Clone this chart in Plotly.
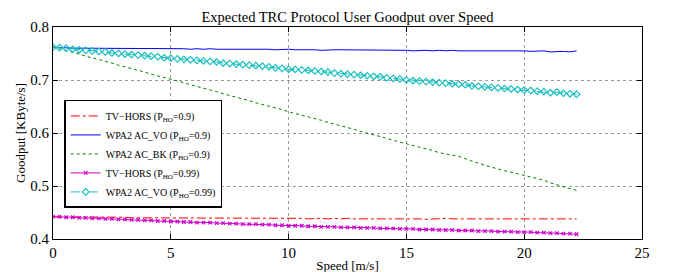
import plotly.graph_objects as go

speed_ms = [0, 0.278, 0.556, 0.833, 1.111, 1.389, 1.667, 1.944, 2.222, 2.5,
            2.778, 3.056, 3.333, 3.611, 3.889, 4.167, 4.444, 4.722, 5.0, 5.278,
            5.556, 5.833, 6.111, 6.389, 6.667, 6.944, 7.222, 7.5, 7.778, 8.056,
            8.333, 8.611, 8.889, 9.167, 9.444, 9.722, 10.0, 10.278, 10.556, 10.833,
            11.111, 11.389, 11.667, 11.944, 12.222, 12.5, 12.778, 13.056, 13.333, 13.611,
            13.889, 14.167, 14.444, 14.722, 15.0, 15.278, 15.556, 15.833, 16.111, 16.389,
            16.667, 16.944, 17.222, 17.5, 17.778, 18.056, 18.333, 18.611, 18.889, 19.167,
            19.444, 19.722, 20.0, 20.278, 20.556, 20.833, 21.111, 21.389, 21.667, 21.944,
            22.222]

tvhors_09 = [0.442, 0.442, 0.442, 0.442, 0.441, 0.441, 0.441, 0.441, 0.441, 0.441,
             0.441, 0.441, 0.440, 0.440, 0.440, 0.440, 0.440, 0.440, 0.440, 0.440,
             0.440, 0.440, 0.440, 0.439, 0.440, 0.439, 0.439, 0.439, 0.439, 0.439,
             0.439, 0.439, 0.439, 0.439, 0.439, 0.439, 0.439, 0.439, 0.439, 0.438,
             0.439, 0.439, 0.438, 0.439, 0.438, 0.439, 0.438, 0.438, 0.439, 0.438,
             0.438, 0.438, 0.438, 0.439, 0.438, 0.438, 0.438, 0.437, 0.438, 0.438,
             0.439, 0.438, 0.438, 0.438, 0.437, 0.438, 0.438, 0.438, 0.438, 0.437,
             0.438, 0.438, 0.438, 0.437, 0.438, 0.437, 0.437, 0.438, 0.437, 0.438,
             0.438]

acvo_09 = [0.762, 0.761, 0.761, 0.760, 0.760, 0.760, 0.760, 0.760, 0.760, 0.760,
           0.760, 0.760, 0.760, 0.760, 0.759, 0.760, 0.759, 0.759, 0.759, 0.759,
           0.759, 0.758, 0.759, 0.758, 0.759, 0.758, 0.758, 0.758, 0.758, 0.758,
           0.759, 0.758, 0.758, 0.758, 0.757, 0.758, 0.758, 0.757, 0.757, 0.758,
           0.757, 0.756, 0.757, 0.757, 0.757, 0.757, 0.756, 0.757, 0.756, 0.756,
           0.756, 0.757, 0.756, 0.756, 0.756, 0.755, 0.756, 0.756, 0.755, 0.756,
           0.755, 0.756, 0.755, 0.755, 0.756, 0.756, 0.755, 0.755, 0.755, 0.755,
           0.755, 0.755, 0.755, 0.754, 0.754, 0.755, 0.753, 0.754, 0.754, 0.753,
           0.755]

acbk_09 = [0.762, 0.759, 0.755, 0.752, 0.749, 0.745, 0.742, 0.738, 0.735, 0.732,
           0.728, 0.725, 0.722, 0.718, 0.715, 0.711, 0.708, 0.705, 0.701, 0.698,
           0.695, 0.691, 0.688, 0.684, 0.681, 0.678, 0.674, 0.671, 0.667, 0.664,
           0.661, 0.657, 0.654, 0.651, 0.647, 0.644, 0.640, 0.637, 0.634, 0.630,
           0.627, 0.624, 0.620, 0.617, 0.613, 0.610, 0.607, 0.603, 0.600, 0.597,
           0.593, 0.590, 0.586, 0.583, 0.580, 0.577, 0.574, 0.571, 0.567, 0.563,
           0.560, 0.558, 0.556, 0.551, 0.547, 0.543, 0.539, 0.536, 0.532, 0.529,
           0.526, 0.522, 0.519, 0.516, 0.513, 0.511, 0.506, 0.502, 0.499, 0.495,
           0.492]

tvhors_099 = [0.442, 0.442, 0.441, 0.441, 0.440, 0.440, 0.439, 0.439, 0.438, 0.438,
              0.437, 0.437, 0.436, 0.436, 0.435, 0.435, 0.434, 0.434, 0.433, 0.433,
              0.432, 0.432, 0.431, 0.431, 0.431, 0.430, 0.430, 0.429, 0.429, 0.428,
              0.428, 0.428, 0.427, 0.427, 0.426, 0.426, 0.425, 0.425, 0.425, 0.424,
              0.424, 0.423, 0.423, 0.423, 0.422, 0.422, 0.422, 0.421, 0.421, 0.421,
              0.420, 0.420, 0.420, 0.419, 0.419, 0.419, 0.418, 0.418, 0.418, 0.417,
              0.417, 0.417, 0.416, 0.416, 0.416, 0.415, 0.415, 0.415, 0.414, 0.414,
              0.414, 0.413, 0.413, 0.413, 0.412, 0.412, 0.411, 0.411, 0.410, 0.410,
              0.409]

acvo_099 = [0.762, 0.761, 0.760, 0.758, 0.757, 0.756, 0.755, 0.754, 0.753, 0.751,
            0.750, 0.749, 0.748, 0.747, 0.746, 0.745, 0.744, 0.742, 0.741, 0.740,
            0.739, 0.738, 0.737, 0.736, 0.735, 0.734, 0.732, 0.731, 0.730, 0.729,
            0.728, 0.727, 0.726, 0.725, 0.723, 0.722, 0.720, 0.720, 0.719, 0.718,
            0.717, 0.716, 0.715, 0.713, 0.712, 0.711, 0.710, 0.709, 0.708, 0.707,
            0.706, 0.704, 0.703, 0.702, 0.700, 0.699, 0.698, 0.697, 0.696, 0.695,
            0.694, 0.693, 0.692, 0.691, 0.689, 0.688, 0.687, 0.686, 0.685, 0.684,
            0.683, 0.682, 0.681, 0.680, 0.679, 0.678, 0.676, 0.677, 0.675, 0.674,
            0.673]

x_ticks = [0, 5, 10, 15, 20, 25]
y_ticks = [0.4, 0.5, 0.6, 0.7, 0.8]
y_tick_labels = ["0.4", "0.5", "0.6", "0.7", "0.8"]

FONT = "Liberation Serif"

fig = go.Figure()
fig.add_trace(go.Scatter(x=speed_ms, y=tvhors_09, mode="lines",
                         name="TV\u2212HORS (P<sub>HO</sub>=0.9)",
                         line=dict(color="#ff0000", width=1, dash="dashdot")))
fig.add_trace(go.Scatter(x=speed_ms, y=acvo_09, mode="lines",
                         name="WPA2 AC_VO (P<sub>HO</sub>=0.9)",
                         line=dict(color="#0000ff", width=1)))
fig.add_trace(go.Scatter(x=speed_ms, y=acbk_09, mode="lines",
                         name="WPA2 AC_BK (P<sub>HO</sub>=0.9)",
                         line=dict(color="#008000", width=1, dash="dot")))
fig.add_trace(go.Scatter(x=speed_ms, y=tvhors_099, mode="lines+markers",
                         name="TV\u2212HORS (P<sub>HO</sub>=0.99)",
                         line=dict(color="#cc00cc", width=1),
                         marker=dict(symbol="x-thin-open", size=3.5,
                                     line=dict(color="#cc00cc", width=1.2))))
fig.add_trace(go.Scatter(x=speed_ms, y=acvo_099, mode="lines+markers",
                         name="WPA2 AC_VO (P<sub>HO</sub>=0.99)",
                         line=dict(color="#1abfbf", width=1, dash="dash"),
                         marker=dict(symbol="diamond-open", size=5,
                                     line=dict(color="#1abfbf", width=1.2))))

axis_common = dict(showline=True, linecolor="black", linewidth=1, mirror="ticks",
                   ticks="inside", ticklen=5, tickcolor="black", automargin=False,
                   showgrid=True, gridcolor="#9a9a9a", griddash="dot", gridwidth=1,
                   zeroline=False, tickfont=dict(family=FONT, size=15, color="black"))

fig.update_layout(
    width=675, height=272,
    margin=dict(l=45, r=41, t=19, b=41),
    paper_bgcolor="white", plot_bgcolor="white",
    font=dict(family=FONT, color="black"),
    title=dict(text="Expected TRC Protocol User Goodput over Speed",
               x=0.5, xref="paper", xanchor="center", y=0.966, yanchor="middle",
               font=dict(family=FONT, size=14.5, color="black")),
    xaxis=dict(range=[0, 25], tickvals=x_ticks,
               title=dict(text="Speed [m/s]", font=dict(family=FONT, size=13), standoff=0),
               **axis_common),
    yaxis=dict(range=[0.4, 0.8], tickvals=y_ticks, ticktext=y_tick_labels,
               title=dict(text="Goodput [KByte/s]", font=dict(family=FONT, size=13), standoff=1),
               **axis_common),
    legend=dict(x=0.019, y=0.656, xanchor="left", yanchor="top",
                bgcolor="white", bordercolor="black", borderwidth=1.5,
                font=dict(family=FONT, size=10, color="black"),
                tracegroupgap=0, itemwidth=30),
    showlegend=True,
)

fig.write_html("out.html")
